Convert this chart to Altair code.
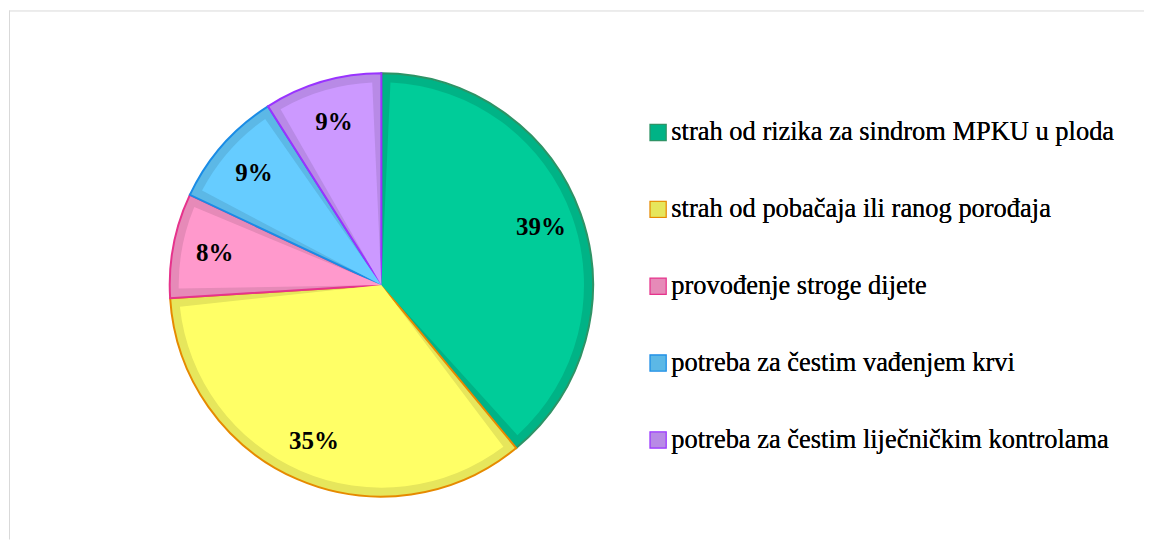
import altair as alt
import pandas as pd

categories = [
    "strah od rizika za sindrom MPKU u ploda",
    "strah od pobačaja ili ranog porođaja",
    "provođenje stroge dijete",
    "potreba za čestim vađenjem krvi",
    "potreba za čestim liječničkim kontrolama",
]
values = [39, 35, 8, 9, 9]
labels = ["39%", "35%", "8%", "9%", "9%"]

main_colors = ["#00CC99", "#FFFF66", "#FF99CC", "#66CCFF", "#CC99FF"]
band_colors = ["#00B386", "#E6E65C", "#E68AB8", "#5CB8E6", "#B88AE6"]
border_colors = ["#2E9366", "#E68A00", "#E6338C", "#1A8CE6", "#9933FF"]

SERIF = "'Liberation Serif', 'Times New Roman', 'DejaVu Serif', serif"

df = pd.DataFrame({
    "cat": categories,
    "value": values,
    "label": labels,
    "idx": list(range(len(categories))),
})

W, H = 1137, 532
CX, CY = 373, 277

base = alt.Chart(df).encode(
    theta=alt.Theta("value:Q", stack=True),
    order=alt.Order("idx:Q"),
    x=alt.value(CX),
    y=alt.value(CY),
)

legend = alt.Legend(
    title=None,
    orient="none",
    legendX=637,
    legendY=111,
    symbolType="square",
    symbolSize=225,
    symbolStrokeWidth=2.5,
    symbolOpacity=1,
    labelFont=SERIF,
    labelFontSize=26.5,
    labelColor="#000000",
    labelLimit=0,
    labelOffset=0,
    rowPadding=50,
)

outer = base.mark_arc(outerRadius=212, strokeWidth=2).encode(
    fill=alt.Fill("cat:N", sort=categories,
                  scale=alt.Scale(domain=categories, range=band_colors), legend=legend),
    stroke=alt.Stroke("cat:N", sort=categories,
                      scale=alt.Scale(domain=categories, range=border_colors), legend=legend),
)

inner = base.mark_arc(outerRadius=203, padAngle=0.09).encode(
    fill=alt.Fill("cat:N", sort=categories,
                  scale=alt.Scale(domain=categories, range=main_colors), legend=None),
)

text = base.mark_text(
    radius=170, font=SERIF, fontSize=25, fontWeight="bold", color="#000000"
).encode(text=alt.Text("label:N"))

frame_df = pd.DataFrame({"k": [0]})
top_rule = alt.Chart(frame_df).mark_rule(color="#d9d9d9", strokeWidth=1).encode(
    x=alt.value(0), x2=alt.value(W), y=alt.value(2.5)
)
left_rule = alt.Chart(frame_df).mark_rule(color="#d9d9d9", strokeWidth=1).encode(
    x=alt.value(0.5), y=alt.value(2), y2=alt.value(H)
)

chart = (
    alt.layer(top_rule, left_rule, outer, inner, text)
    .resolve_scale(fill="independent")
    .properties(width=W, height=H, padding=0)
    .configure_view(stroke=None)
)

chart.save("out.html", embed_options={"renderer": "svg", "actions": False})
